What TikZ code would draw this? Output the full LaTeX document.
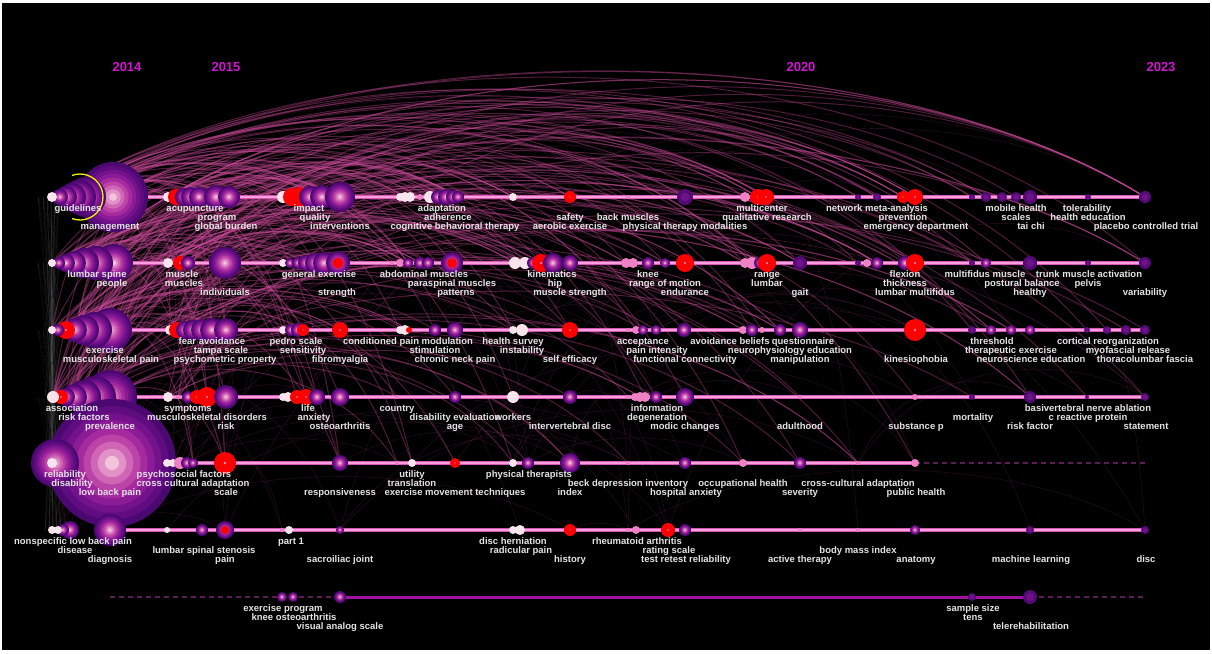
\documentclass[tikz,border=0pt]{standalone}
\usepackage{fontspec}
\setmainfont{Liberation Sans}
\usetikzlibrary{calc}
\pgfdeclarelayer{back}
\pgfdeclarelayer{arcs}
\pgfdeclarelayer{front}
\pgfsetlayers{back,arcs,main,front}
\definecolor{ring0}{HTML}{4A0870}
\definecolor{ring1}{HTML}{5E0C80}
\definecolor{ring2}{HTML}{74128C}
\definecolor{ring3}{HTML}{8C1C96}
\definecolor{ring4}{HTML}{A42A9E}
\definecolor{ring5}{HTML}{BC44A8}
\definecolor{ring6}{HTML}{D066B6}
\definecolor{ring7}{HTML}{E292C8}
\definecolor{ring8}{HTML}{F4C4DC}
\definecolor{nred}{HTML}{FF0000}
\definecolor{wcol}{HTML}{F7E4EC}
\definecolor{kcol}{HTML}{EE80C4}
\definecolor{mcol}{HTML}{540A76}
\definecolor{mcol2}{HTML}{6C1486}
\definecolor{linecol}{HTML}{D656B6}
\definecolor{linecol2}{HTML}{F7A0DC}
\definecolor{rowsev}{HTML}{A3129F}
\definecolor{dashcol}{HTML}{5A1E55}
\definecolor{arccol}{HTML}{C84A98}
\definecolor{yearcol}{HTML}{D214D2}
\definecolor{labcol}{HTML}{E4E4E4}
\definecolor{yel}{HTML}{F0F000}
\tikzset{
 lbl/.style={text=labcol, font=\bfseries\fontsize{9.5}{10}\selectfont, inner sep=0pt, anchor=base},
 yearlbl/.style={text=yearcol, font=\bfseries\fontsize{13}{14}\selectfont, inner sep=0pt},
 rline/.style={line width=3.6pt, draw=linecol, postaction={draw=linecol2, line width=1.2pt}},
 r7line/.style={line width=3pt, draw=rowsev},
 dline/.style={line width=1.2pt, draw=dashcol, dash pattern=on 5pt off 4pt},
 arcA/.style={draw=arccol, line width=1pt, opacity=0.38},
 arcB/.style={draw=arccol, line width=0.6pt, opacity=0.16},
 gline/.style={draw=gray, line width=0.4pt, opacity=0.14},
}
\newcount\ncnt
\newcount\lcnt
\newcommand\startrow[2]{\xdef\currow{#1}\xdef\rowy{#2}\global\ncnt=0\relax
  \edef\tmp{\noexpand\coordinate (g\currow) at (52,-\rowy);}\tmp}
\newcommand\finishrow{\expandafter\xdef\csname rc\currow\endcsname{\the\ncnt}}
\newcommand\drawP[2]{\foreach \k in {0,...,8}{\fill[ring\k] (#1,-\rowy) circle ({#2*(1-\k/9)});}}
\newcommand\drawR[2]{\fill[nred] (#1,-\rowy) circle (#2);\fill[ring7] (#1,-\rowy) circle ({0.12*#2});}
\newcommand\drawW[2]{\fill[wcol] (#1,-\rowy) circle (#2);}
\newcommand\drawK[2]{\fill[kcol] (#1,-\rowy) circle (#2);}
\newcommand\drawM[2]{\fill[mcol] (#1,-\rowy) circle (#2);\fill[mcol2] (#1,-\rowy) circle ({0.55*#2});}
\newcommand\drawX[2]{\drawP{#1}{#2}\fill[nred] (#1,-\rowy) circle ({0.45*#2});}
\newcommand\nd[3]{\global\advance\ncnt by 1\relax
  \edef\tmp{\noexpand\coordinate (r\currow n\the\ncnt) at (#2,-\rowy);}\tmp
  \csname draw#1\endcsname{#2}{#3}}
\newcommand\lb[3]{\global\advance\lcnt by 1\relax
  \begin{pgfonlayer}{front}
  \edef\tmp{\noexpand\node[lbl] (lab\the\lcnt) at (#1,{-\rowy-5-9*#2})}\tmp{#3};
  \end{pgfonlayer}}
\newcommand\seg[4]{\edef\tmp{\noexpand\coordinate (s\currow#4) at (#2,-\rowy); \noexpand\coordinate (e\currow#4) at (#3,-\rowy);}\tmp
  \draw[#1] (s\currow#4) -- (e\currow#4);}
\begin{document}
\begin{tikzpicture}[x=1pt,y=1pt]
\useasboundingbox (0,0) rectangle (1212,-653);
\begin{pgfonlayer}{back}
\fill[white] (0,0) rectangle (1212,-653);
\fill[black] (2,-3) rectangle (1210,-650);
\end{pgfonlayer}
\node[yearlbl] (y2014) at (127,-67) {2014};
\node[yearlbl] (y2015) at (226,-67) {2015};
\node[yearlbl] (y2020) at (801,-67) {2020};
\node[yearlbl] (y2023) at (1161,-67) {2023};
% ---------------- row 1
\startrow{1}{197}
\seg{rline}{148}{1145}{a}
\nd{P}{113}{35}\nd{P}{86}{20}\nd{P}{79}{17}\nd{P}{72}{14}\nd{P}{66}{11}\nd{P}{60}{8}\nd{W}{52}{5}
\coordinate (yc) at (80,-197);
\draw[yel,line width=1.3pt] ([shift={(-110:23)}]yc) arc[start angle=-110,end angle=110,radius=23];
\nd{W}{168}{5}\nd{R}{176}{8}\nd{P}{184}{9}\nd{P}{191}{10}\nd{P}{199}{10}\nd{P}{216}{12}\nd{P}{229}{11}
\nd{W}{283}{6}\nd{R}{292}{9}\nd{R}{300}{10}\nd{P}{310}{11}\nd{P}{322}{12}\nd{P}{340}{15}
\nd{W}{400}{4}\nd{W}{405}{5}\nd{W}{410}{5}\nd{K}{420}{3}\nd{W}{430}{6}\nd{P}{438}{7}\nd{P}{446}{8}\nd{P}{453}{7}\nd{P}{458}{6}
\nd{W}{513}{4}\nd{R}{570}{6}\nd{K}{628}{2}\nd{M}{685}{8}\nd{K}{745}{5}\nd{R}{758}{8}\nd{R}{766}{8}
\nd{M}{858}{3}\nd{M}{877}{4}\nd{R}{903}{6}\nd{R}{915}{8}\nd{M}{972}{3}\nd{M}{986}{5}\nd{M}{1002}{5}\nd{M}{1016}{5}\nd{M}{1030}{7}\nd{M}{1088}{3}\nd{M}{1145}{6}
\finishrow
\lb{78}{1}{guidelines}\lb{110}{3}{management}\lb{195}{1}{acupuncture}\lb{217}{2}{program}\lb{226}{3}{global burden}
\lb{309}{1}{impact}\lb{315}{2}{quality}\lb{340}{3}{interventions}\lb{442}{1}{adaptation}\lb{448}{2}{adherence}
\lb{455}{3}{cognitive behavioral therapy}\lb{570}{2}{safety}\lb{570}{3}{aerobic exercise}\lb{628}{2}{back muscles}
\lb{685}{3}{physical therapy modalities}\lb{762}{1}{multicenter}\lb{767}{2}{qualitative research}
\lb{877}{1}{network meta-analysis}\lb{903}{2}{prevention}\lb{916}{3}{emergency department}
\lb{1016}{1}{mobile health}\lb{1016}{2}{scales}\lb{1031}{3}{tai chi}\lb{1087}{1}{tolerability}
\lb{1088}{2}{health education}\lb{1146}{3}{placebo controlled trial}
% ---------------- row 2
\startrow{2}{263}
\seg{rline}{132}{1145}{a}
\nd{P}{114}{19}\nd{P}{96}{17}\nd{P}{84}{15}\nd{P}{74}{12}\nd{P}{66}{9}\nd{P}{59}{6}\nd{W}{52}{4}
\nd{W}{168}{5}\nd{R}{180}{7}\nd{P}{188}{7}\nd{P}{225}{16}\nd{W}{283}{4}\nd{P}{290}{5}\nd{P}{298}{6}\nd{P}{306}{8}\nd{P}{315}{10}\nd{P}{324}{11}\nd{X}{338}{12}
\nd{K}{392}{2}\nd{K}{400}{4}\nd{P}{408}{5}\nd{P}{420}{6}\nd{P}{428}{6}\nd{X}{452}{11}
\nd{W}{515}{6}\nd{W}{525}{6}\nd{P}{533}{6}\nd{R}{541}{9}\nd{P}{553}{10}\nd{P}{570}{8}
\nd{K}{626}{5}\nd{K}{633}{5}\nd{P}{648}{6}\nd{P}{665}{5}\nd{R}{685}{9}
\nd{K}{745}{5}\nd{K}{752}{6}\nd{P}{760}{6}\nd{R}{767}{9}\nd{M}{800}{7}
\nd{M}{858}{3}\nd{K}{867}{4}\nd{P}{877}{6}\nd{P}{905}{7}\nd{R}{915}{9}\nd{M}{972}{3}\nd{P}{986}{5}\nd{M}{1030}{7}\nd{M}{1088}{3}\nd{M}{1145}{6}
\finishrow
\lb{97}{1}{lumbar spine}\lb{112}{2}{people}\lb{182}{1}{muscle}\lb{184}{2}{muscles}\lb{225}{3}{individuals}
\lb{319}{1}{general exercise}\lb{337}{3}{strength}\lb{424}{1}{abdominal muscles}\lb{452}{2}{paraspinal muscles}
\lb{456}{3}{patterns}\lb{552}{1}{kinematics}\lb{555}{2}{hip}\lb{570}{3}{muscle strength}\lb{648}{1}{knee}
\lb{665}{2}{range of motion}\lb{685}{3}{endurance}\lb{767}{1}{range}\lb{767}{2}{lumbar}\lb{800}{3}{gait}
\lb{905}{1}{flexion}\lb{905}{2}{thickness}\lb{915}{3}{lumbar multifidus}\lb{985}{1}{multifidus muscle}
\lb{1022}{2}{postural balance}\lb{1030}{3}{healthy}\lb{1089}{1}{trunk muscle activation}\lb{1088}{2}{pelvis}
\lb{1145}{3}{variability}
% ---------------- row 3
\startrow{3}{330}
\seg{rline}{132}{1145}{a}
\nd{P}{110}{22}\nd{P}{94}{18}\nd{P}{84}{15}\nd{P}{75}{12}\nd{R}{66}{9}\nd{P}{58}{6}\nd{W}{52}{4}
\nd{W}{170}{5}\nd{R}{177}{8}\nd{P}{185}{9}\nd{P}{193}{10}\nd{P}{202}{11}\nd{P}{212}{12}\nd{P}{226}{12}
\nd{W}{283}{4}\nd{P}{291}{6}\nd{P}{298}{7}\nd{R}{303}{6}\nd{R}{340}{8}
\nd{W}{400}{4}\nd{W}{405}{5}\nd{R}{409}{3}\nd{P}{435}{6}\nd{P}{455}{8}\nd{W}{513}{4}\nd{W}{522}{6}\nd{R}{570}{8}
\nd{K}{628}{2}\nd{K}{636}{4}\nd{P}{643}{5}\nd{P}{656}{5}\nd{P}{684}{7}\nd{K}{743}{4}\nd{P}{752}{6}\nd{K}{762}{3}\nd{P}{780}{6}\nd{P}{800}{8}
\nd{R}{915}{11}\nd{M}{972}{4}\nd{P}{991}{5}\nd{P}{1011}{5}\nd{P}{1030}{5}\nd{M}{1087}{3}\nd{M}{1107}{4}\nd{M}{1126}{5}\nd{M}{1145}{5}
\finishrow
\lb{105}{2}{exercise}\lb{111}{3}{musculoskeletal pain}\lb{212}{1}{fear avoidance}\lb{221}{2}{tampa scale}
\lb{225}{3}{psychometric property}\lb{296}{1}{pedro scale}\lb{303}{2}{sensitivity}\lb{340}{3}{fibromyalgia}
\lb{408}{1}{conditioned pain modulation}\lb{435}{2}{stimulation}\lb{455}{3}{chronic neck pain}
\lb{513}{1}{health survey}\lb{522}{2}{instability}\lb{570}{3}{self efficacy}\lb{643}{1}{acceptance}
\lb{657}{2}{pain intensity}\lb{685}{3}{functional connectivity}\lb{730}{1}{avoidance beliefs}
\lb{790}{2}{neurophysiology education}\lb{803}{1}{questionnaire}\lb{800}{3}{manipulation}
\lb{916}{3}{kinesiophobia}\lb{992}{1}{threshold}\lb{1011}{2}{therapeutic exercise}
\lb{1031}{3}{neuroscience education}\lb{1108}{1}{cortical reorganization}\lb{1128}{2}{myofascial release}
\lb{1145}{3}{thoracolumbar fascia}
% ---------------- row 4
\startrow{4}{397}
\seg{rline}{137}{1145}{a}
\nd{P}{110}{27}\nd{P}{95}{21}\nd{P}{84}{17}\nd{P}{74}{13}\nd{P}{66}{9}\nd{R}{61}{7}\nd{W}{53}{6}
\nd{W}{168}{5}\nd{K}{178}{2}\nd{P}{188}{6}\nd{R}{197}{7}\nd{R}{207}{10}\nd{P}{226}{12}
\nd{W}{283}{4}\nd{W}{288}{5}\nd{R}{297}{7}\nd{R}{306}{8}\nd{P}{317}{8}\nd{P}{340}{9}
\nd{K}{397}{2}\nd{P}{455}{6}\nd{W}{513}{6}\nd{P}{570}{7}\nd{K}{628}{2}\nd{K}{635}{4}\nd{K}{640}{5}\nd{K}{645}{5}\nd{P}{656}{6}\nd{P}{685}{9}
\nd{K}{800}{2}\nd{K}{915}{3}\nd{M}{972}{3}\nd{M}{1030}{6}\nd{M}{1087}{2}\nd{M}{1145}{4}
\finishrow
\lb{72}{1}{association}\lb{84}{2}{risk factors}\lb{110}{3}{prevalence}\lb{188}{1}{symptoms}
\lb{207}{2}{musculoskeletal disorders}\lb{226}{3}{risk}\lb{308}{1}{life}\lb{314}{2}{anxiety}
\lb{340}{3}{osteoarthritis}\lb{397}{1}{country}\lb{455}{2}{disability evaluation}\lb{513}{2}{workers}
\lb{455}{3}{age}\lb{570}{3}{intervertebral disc}\lb{657}{1}{information}\lb{657}{2}{degeneration}
\lb{685}{3}{modic changes}\lb{800}{3}{adulthood}\lb{916}{3}{substance p}\lb{973}{2}{mortality}
\lb{1030}{3}{risk factor}\lb{1088}{1}{basivertebral nerve ablation}\lb{1088}{2}{c reactive protein}
\lb{1146}{3}{statement}
% ---------------- row 5
\startrow{5}{463}
\seg{rline}{176}{915}{a}
\seg{dline}{915}{1145}{b}
\nd{P}{112}{64}\nd{P}{55}{24}\nd{W}{52}{5}
\nd{W}{167}{4}\nd{W}{173}{4}\nd{K}{180}{6}\nd{P}{187}{6}\nd{P}{193}{5}\nd{R}{225}{11}
\nd{P}{340}{8}\nd{K}{397}{2}\nd{W}{412}{4}\nd{R}{455}{5}\nd{W}{513}{4}\nd{P}{528}{6}\nd{P}{570}{10}
\nd{K}{628}{2}\nd{P}{685}{6}\nd{K}{743}{4}\nd{P}{800}{6}\nd{K}{858}{2}\nd{K}{915}{4}
\finishrow
\lb{65}{1}{reliability}\lb{72}{2}{disability}\lb{110}{3}{low back pain}\lb{184}{1}{psychosocial factors}
\lb{193}{2}{cross cultural adaptation}\lb{226}{3}{scale}\lb{340}{3}{responsiveness}\lb{412}{1}{utility}
\lb{412}{2}{translation}\lb{455}{3}{exercise movement techniques}\lb{529}{1}{physical therapists}
\lb{628}{2}{beck depression inventory}\lb{570}{3}{index}\lb{686}{3}{hospital anxiety}
\lb{743}{2}{occupational health}\lb{800}{3}{severity}\lb{858}{2}{cross-cultural adaptation}
\lb{916}{3}{public health}
% ---------------- row 6
\startrow{6}{530}
\seg{rline}{126}{1145}{a}
\nd{P}{110}{16}\nd{P}{70}{9}\nd{P}{63}{6}\nd{W}{58}{4}\nd{W}{52}{4}
\nd{W}{167}{3}\nd{P}{202}{6}\nd{X}{225}{9}\nd{K}{282}{2}\nd{W}{289}{4}\nd{P}{340}{4}
\nd{W}{513}{4}\nd{W}{520}{5}\nd{R}{570}{6}\nd{K}{628}{2}\nd{K}{636}{4}\nd{R}{668}{7}\nd{P}{685}{6}
\nd{K}{800}{2}\nd{K}{858}{2}\nd{P}{915}{5}\nd{M}{1030}{4}\nd{M}{1145}{4}
\finishrow
\lb{73}{1}{nonspecific low back pain}\lb{75}{2}{disease}\lb{110}{3}{diagnosis}
\lb{204}{2}{lumbar spinal stenosis}\lb{225}{3}{pain}\lb{291}{1}{part 1}\lb{340}{3}{sacroiliac joint}
\lb{513}{1}{disc herniation}\lb{521}{2}{radicular pain}\lb{570}{3}{history}\lb{637}{1}{rheumatoid arthritis}
\lb{669}{2}{rating scale}\lb{686}{3}{test retest reliability}\lb{800}{3}{active therapy}
\lb{858}{2}{body mass index}\lb{916}{3}{anatomy}\lb{1031}{3}{machine learning}\lb{1146}{3}{disc}
% ---------------- row 7
\startrow{7}{597}
\seg{dline}{110}{340}{a}
\seg{r7line}{340}{1030}{b}
\seg{dline}{1030}{1145}{c}
\nd{P}{282}{5}\nd{P}{293}{5}\nd{P}{340}{6}\nd{M}{972}{4}\nd{M}{1030}{7}
\finishrow
\lb{283}{1}{exercise program}\lb{294}{2}{knee osteoarthritis}\lb{340}{3}{visual analog scale}
\lb{973}{1}{sample size}\lb{973}{2}{tens}\lb{1031}{3}{telerehabilitation}
% ---------------- co-occurrence arcs
\begin{pgfonlayer}{arcs}
\foreach \a/\b in {1/2,2/3,3/4,4/5,5/6,1/3,2/4,3/5,4/6,1/4,2/5,3/6,1/5,2/6,1/6}{
  \foreach \s in {-14,-9,-5,-1,3,7}{\draw[gline] ([xshift=\s pt]g\a) -- ([xshift=-\s pt]g\b);}}
\pgfmathsetseed{2024}
\foreach \i in {1,...,280}{
  \pgfmathrandominteger{\ra}{1}{4}
  \pgfmathrandominteger{\ia}{1}{9}
  \pgfmathrandominteger{\t}{1}{10}
  \edef\rb{\ifcase\t\or1\or1\or1\or2\or2\or2\or3\or3\or4\or5\fi}
  \edef\mx{\csname rc\rb\endcsname}
  \pgfmathrandominteger{\ib}{8}{\mx}
  \draw[arcA] let \p1=(r\ra n\ia), \p2=(r\rb n\ib), \n1={abs(\x2-\x1)}, \n2={max(\y1,\y2)+0.155*\n1} in
    (r\ra n\ia) .. controls ({\x1+0.25*(\x2-\x1)},\n2) and ({\x2-0.25*(\x2-\x1)},\n2) .. (r\rb n\ib);
}
\foreach \i in {1,...,110}{
  \pgfmathrandominteger{\ra}{1}{6}
  \edef\mxa{\csname rc\ra\endcsname}
  \pgfmathrandominteger{\ia}{1}{\mxa}
  \pgfmathrandominteger{\rb}{1}{6}
  \edef\mx{\csname rc\rb\endcsname}
  \pgfmathrandominteger{\ib}{1}{\mx}
  \draw[arcB] let \p1=(r\ra n\ia), \p2=(r\rb n\ib), \n1={abs(\x2-\x1)}, \n2={max(\y1,\y2)+0.155*\n1} in
    (r\ra n\ia) .. controls ({\x1+0.25*(\x2-\x1)},\n2) and ({\x2-0.25*(\x2-\x1)},\n2) .. (r\rb n\ib);
}
\end{pgfonlayer}
\end{tikzpicture}
\end{document}
